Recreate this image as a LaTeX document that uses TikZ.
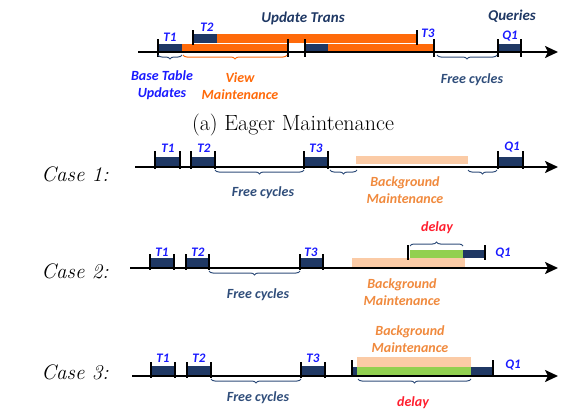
\documentclass[tikz,border=0pt]{standalone}
\usepackage{fontspec}
\newfontfamily\calib{Carlito}
\usetikzlibrary{arrows.meta,decorations.pathreplacing,positioning}
\definecolor{navy}{HTML}{1F3864}
\definecolor{tblue}{HTML}{1A1AFF}
\definecolor{orng}{HTML}{FF6A0A}
\definecolor{lorng}{HTML}{FBCBA6}
\definecolor{morng}{HTML}{F08A3E}
\definecolor{grn}{HTML}{92D050}
\definecolor{dred}{HTML}{FF1F2F}
\definecolor{bnavy}{HTML}{2F4D7A}
\tikzset{
  timeline/.style={line width=2.2pt,-{Stealth[length=13pt,width=12pt,inset=3pt]}},
  tick/.style={line width=1.6pt},
  txn/.style={fill=navy},
  tlab/.style={font=\calib\bfseries\itshape\fontsize{13}{14}\selectfont,text=tblue,inner sep=0pt},
  blab/.style={font=\calib\bfseries\itshape\fontsize{14}{17}\selectfont,inner sep=0pt,align=center},
  case/.style={font=\fontsize{21}{24}\selectfont\itshape,inner sep=0pt},
  brc/.style={decorate,decoration={brace,amplitude=4pt},line width=1pt,draw=bnavy},
}
\begin{document}
\begin{tikzpicture}[x=1pt,y=-1pt]
    \useasboundingbox (0,0) rectangle (579,415);
    % (a) eager maintenance
    \fill[orng] (217,34) rectangle (417,43);
    \fill[txn] (193,34) rectangle (217,43);
    \fill[orng] (182,44) rectangle (288,52);
    \fill[orng] (328,44) rectangle (434,52);
    \fill[txn] (158,44) rectangle (182,52);
    \fill[txn] (305,44) rectangle (328,52);
    \fill[txn] (498,44) rectangle (521,52);
    \draw[timeline] (138,52) -- (558,52);
    \draw[tick] (193,30) -- (193,45);
    \draw[tick] (417,30) -- (417,45);
    \foreach \x in {158,288,305,434,498,521}
        \draw[tick] (\x,39) -- (\x,57);
    \node[tlab] (a-t1) at (170,37) {T1};
    \node[tlab] (a-t2) at (207,27) {T2};
    \node[tlab] (a-t3) at (428,33) {T3};
    \node[tlab] (a-q1) at (510,36) {Q1};
    \node[blab,text=navy,font=\calib\bfseries\itshape\fontsize{15}{17}\selectfont] (a-upd) at (303,18) {Update Trans};
    \node[blab,text=navy,font=\calib\bfseries\itshape\fontsize{15}{17}\selectfont] (a-qry) at (512,16) {Queries};
    \draw[brc,decoration={mirror}] (158,55) -- (182,55);
    \draw[brc,draw=orng,decoration={mirror}] (183,55) -- (287,55);
    \draw[brc,decoration={mirror}] (437,55) -- (497,55);
    \node[blab,text=tblue] (a-base) at (162,85) {Base Table\\Updates};
    \node[blab,text=orng] (a-view) at (240,86) {View\\Maintenance};
    \node[blab,text=bnavy] (a-free) at (472,80) {Free cycles};
    \node[font=\fontsize{22}{24}\selectfont] (title) at (293,125) {(a) Eager Maintenance};
    % case 1
    \fill[lorng] (356,156) rectangle (468,164);
    \foreach \a/\b in {155/180,191/215,304/328,498/523} {
        \fill[txn] (\a,157) rectangle (\b,167);
        \draw[tick] (\a,151) -- (\a,169);
        \draw[tick] (\b,151) -- (\b,169);
    }
    \draw[timeline] (135,167) -- (558,167);
    \node[tlab] (c1-t1) at (168,148) {T1};
    \node[tlab] (c1-t2) at (204,148) {T2};
    \node[tlab] (c1-t3) at (316,148) {T3};
    \node[tlab] (c1-q1) at (512,147) {Q1};
    \draw[brc,decoration={mirror}] (215,170) -- (304,170);
    \draw[brc,decoration={mirror}] (330,170) -- (357,170);
    \draw[brc,decoration={mirror}] (468,170) -- (497,170);
    \node[blab,text=bnavy] (c1-free) at (263,193) {Free cycles};
    \node[blab,text=morng] (c1-bg) at (405,190) {Background\\Maintenance};
    \node[case] (c1) at (75,174) {Case 1:};
    % case 2
    \fill[lorng] (352,258) rectangle (465,267);
    \fill[grn] (410,250) rectangle (463,258);
    \fill[txn] (463,250) rectangle (485,258);
    \draw[tick] (408,245) -- (408,260);
    \draw[tick] (485,245) -- (485,260);
    \foreach \a/\b in {150/174,186/209,300/323} {
        \fill[txn] (\a,258) rectangle (\b,268);
        \draw[tick] (\a,254) -- (\a,270);
        \draw[tick] (\b,254) -- (\b,270);
    }
    \draw[timeline] (130,268) -- (558,268);
    \node[tlab] (c2-t1) at (162,252) {T1};
    \node[tlab] (c2-t2) at (198,252) {T2};
    \node[tlab] (c2-t3) at (311,252) {T3};
    \node[tlab] (c2-q1) at (503,253) {Q1};
    \draw[brc] (410,246) -- (463,246);
    \node[blab,text=dred] (c2-delay) at (437,228) {delay};
    \draw[brc,decoration={mirror}] (209,271) -- (300,271);
    \node[blab,text=bnavy] (c2-free) at (258,295) {Free cycles};
    \node[blab,text=morng] (c2-bg) at (402,292) {Background\\Maintenance};
    \node[case] (c2) at (75,271) {Case 2:};
    % case 3
    \fill[lorng] (357,357) rectangle (471,367);
    \fill[grn] (357,367) rectangle (471,376);
    \fill[txn] (352,367) rectangle (357,376);
    \fill[txn] (471,367) rectangle (493,376);
    \draw[tick] (352,360) -- (352,377);
    \draw[tick] (493,360) -- (493,377);
    \foreach \a/\b in {151/175,187/211,301/325} {
        \fill[txn] (\a,366) rectangle (\b,376);
        \draw[tick] (\a,362) -- (\a,378);
        \draw[tick] (\b,362) -- (\b,378);
    }
    \draw[timeline] (132,376) -- (558,376);
    \node[tlab] (c3-t1) at (163,358) {T1};
    \node[tlab] (c3-t2) at (199,358) {T2};
    \node[tlab] (c3-t3) at (313,358) {T3};
    \node[tlab] (c3-q1) at (513,365) {Q1};
    \node[blab,text=morng] (c3-bg) at (410,339) {Background\\Maintenance};
    \draw[brc,decoration={mirror}] (211,379) -- (301,379);
    \draw[brc,decoration={mirror}] (358,379) -- (471,379);
    \node[blab,text=bnavy] (c3-free) at (258,398) {Free cycles};
    \node[blab,text=dred] (c3-delay) at (413,403) {delay};
    \node[case] (c3) at (75,372) {Case 3:};
\end{tikzpicture}
\end{document}
